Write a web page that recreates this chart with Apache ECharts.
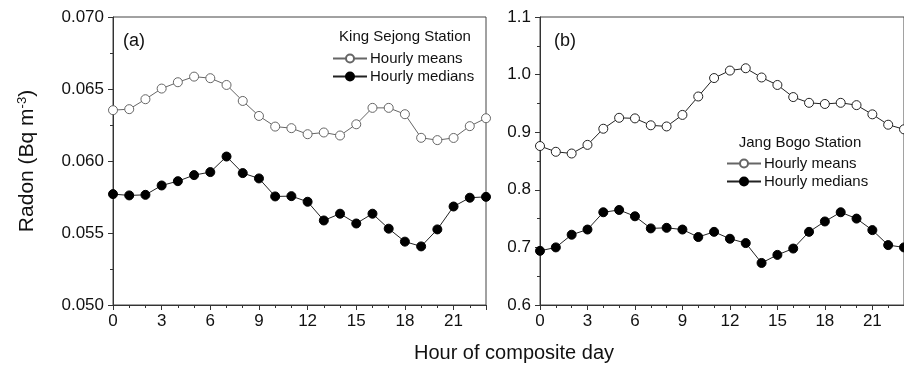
<!DOCTYPE html>
<html>
<head>
<meta charset="utf-8">
<script src="https://cdn.jsdelivr.net/npm/echarts@6/dist/echarts.min.js"></script>
<style>
  html, body { margin: 0; padding: 0; background: #fff; }
  #chart { width: 904px; height: 368px; }
</style>
</head>
<body>
<div id="chart"></div>
<script>
// ---- data ----
const hours = [0, 1, 2, 3, 4, 5, 6, 7, 8, 9, 10, 11, 12, 13, 14, 15, 16, 17, 18, 19, 20, 21, 22, 23];

// (a) King Sejong Station
const kingMeans = [0.06353, 0.0636, 0.06429, 0.06503, 0.06547, 0.06586, 0.06575, 0.06528, 0.06417, 0.06313, 0.06239, 0.06228,
  0.06186, 0.06198, 0.06177, 0.06255, 0.06369, 0.06369, 0.06325, 0.06161, 0.06145, 0.0616, 0.06242, 0.06297];
const kingMedians = [0.0577, 0.05761, 0.05765, 0.0583, 0.0586, 0.05902, 0.05923, 0.06031, 0.05916, 0.05879, 0.05754, 0.05756,
  0.05717, 0.05587, 0.05634, 0.05566, 0.05634, 0.0553, 0.0544, 0.05407, 0.05525, 0.05684, 0.05745, 0.05751];

// (b) Jang Bogo Station
const jangMeans = [0.876, 0.866, 0.863, 0.878, 0.906, 0.925, 0.924, 0.912, 0.910, 0.930, 0.962, 0.994,
  1.007, 1.011, 0.995, 0.982, 0.961, 0.951, 0.949, 0.951, 0.947, 0.931, 0.913, 0.905];
const jangMedians = [0.694, 0.700, 0.722, 0.731, 0.761, 0.765, 0.754, 0.733, 0.734, 0.731, 0.718, 0.727,
  0.715, 0.7075, 0.673, 0.687, 0.698, 0.727, 0.745, 0.761, 0.750, 0.730, 0.704, 0.700];

const FONT = '"Liberation Sans", Arial, sans-serif';
const pairs = (vals) => hours.map((h, i) => [h, vals[i]]);

const xAxisBase = (gridIndex) => ({
  type: 'value', gridIndex, min: 0, max: 23, interval: 3,
  axisLine: { lineStyle: { color: '#333', width: 1 } },
  axisTick: { length: 5, lineStyle: { color: '#333' } },
  minorTick: { show: true, splitNumber: 3, length: 3, lineStyle: { color: '#333' } },
  axisLabel: { color: '#111', fontSize: 17, fontFamily: FONT, margin: 8, showMaxLabel: false },
  splitLine: { show: false },
});

const yAxisBase = (gridIndex, min, max, interval, dec) => ({
  type: 'value', gridIndex, min, max, interval,
  axisLine: { show: true, lineStyle: { color: '#333', width: 1 } },
  axisTick: { show: true, length: 5, lineStyle: { color: '#333' } },
  minorTick: { show: true, splitNumber: 2, length: 3, lineStyle: { color: '#333' } },
  axisLabel: { color: '#111', fontSize: 17, fontFamily: FONT, margin: 9, formatter: (v) => v.toFixed(dec) },
  splitLine: { show: false },
});

const lineSeries = (name, idx, data, lineColor, fill) => ({
  name, type: 'line', xAxisIndex: idx, yAxisIndex: idx,
  data, symbol: 'circle', symbolSize: 9, showSymbol: true,
  lineStyle: { color: lineColor, width: 1 },
  itemStyle: { color: fill, borderColor: fill === '#fff' ? lineColor : '#000', borderWidth: 1 },
  emphasis: { disabled: true },
  animation: false,
});

const legendBase = (left, top) => ({
  orient: 'vertical', left, top,
  itemWidth: 34, itemHeight: 10, itemGap: 3,
  textStyle: { fontSize: 15, fontFamily: FONT, color: '#111', padding: [0, 0, 0, -2] },
  data: ['Hourly means', 'Hourly medians'],
  selectedMode: false,
});

const chart = echarts.init(document.getElementById('chart'));
chart.setOption({
  backgroundColor: '#fff',
  animation: false,
  grid: [
    { left: 113, top: 17, width: 373, bottom: 63, show: true, borderColor: '#444', borderWidth: 1 },
    // panel (b) runs past the right edge of the picture
    { left: 540, top: 17, width: 374, bottom: 63, show: true, borderColor: '#444', borderWidth: 1 },
  ],
  xAxis: [xAxisBase(0), xAxisBase(1)],
  yAxis: [yAxisBase(0, 0.05, 0.07, 0.005, 3), yAxisBase(1, 0.6, 1.1, 0.1, 1)],
  legend: [
    Object.assign(legendBase(327, 46), { seriesIndex: [0, 1] }),
    Object.assign(legendBase(721, 151), { seriesIndex: [2, 3] }),
  ],
  series: [
    lineSeries('Hourly means', 0, pairs(kingMeans), '#666', '#fff'),
    lineSeries('Hourly medians', 0, pairs(kingMedians), '#222', '#000'),
    lineSeries('Hourly means', 1, pairs(jangMeans), '#222', '#fff'),
    lineSeries('Hourly medians', 1, pairs(jangMedians), '#222', '#000'),
  ],
  graphic: [
    { type: 'text', left: 123, top: 32, style: { text: '(a)', font: '18px ' + FONT, fill: '#111' } },
    { type: 'text', left: 554, top: 32, style: { text: '(b)', font: '18px ' + FONT, fill: '#111' } },
    { type: 'text', x: 405, y: 37, style: { text: 'King Sejong Station', font: '15px ' + FONT, fill: '#111', align: 'center', verticalAlign: 'middle' } },
    { type: 'text', x: 800, y: 143, style: { text: 'Jang Bogo Station', font: '15px ' + FONT, fill: '#111', align: 'center', verticalAlign: 'middle' } },
    { type: 'text', x: 514, y: 353, style: { text: 'Hour of composite day', font: '20px ' + FONT, fill: '#111', align: 'center', verticalAlign: 'middle' } },
    {
      type: 'text', x: 27, y: 161, rotation: Math.PI / 2,
      style: {
        text: 'Radon (Bq m{sup|-3})', font: '21px ' + FONT, fill: '#111', align: 'center', verticalAlign: 'middle',
        rich: { sup: { fontSize: 13, fontFamily: FONT, verticalAlign: 'top', padding: [0, 0, 10, 0] } },
      },
    },
  ],
});
</script>
</body>
</html>
